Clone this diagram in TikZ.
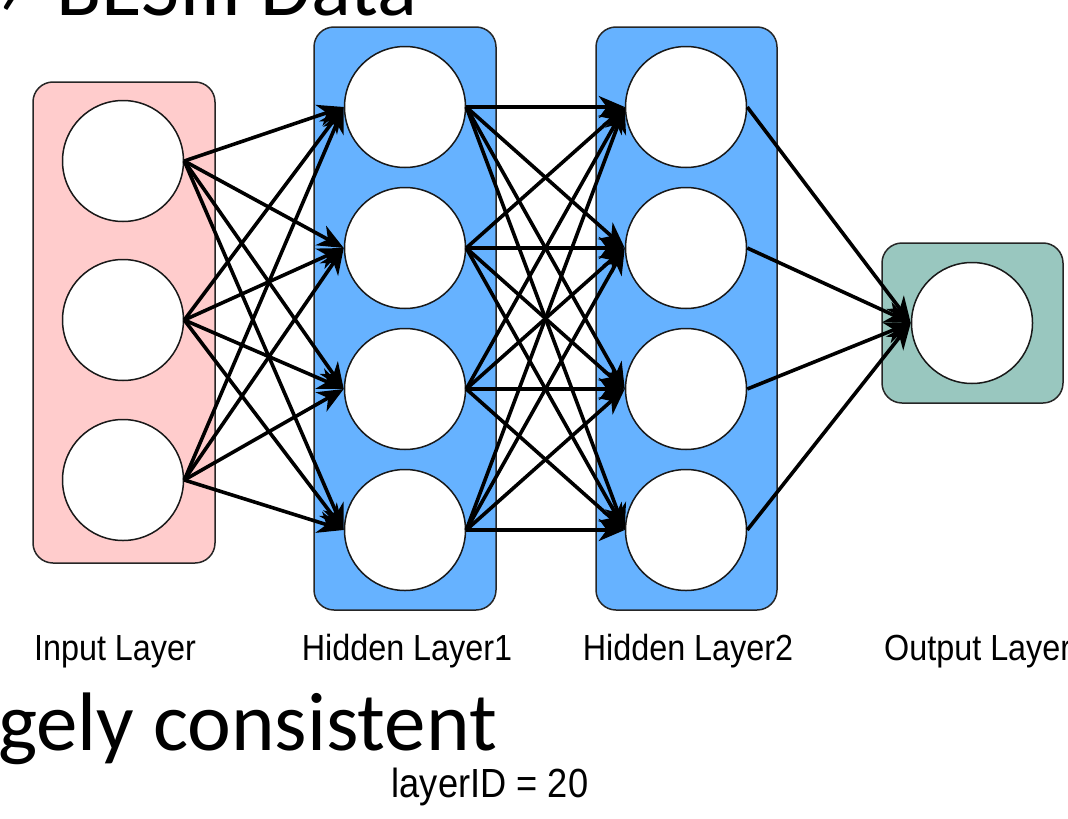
\documentclass[tikz,border=0pt]{standalone}
\usepackage{fontspec}
\setmainfont{Liberation Sans}
\newfontfamily\slidefont{Carlito}
\usetikzlibrary{arrows.meta}
\definecolor{inputpink}{RGB}{255,204,204}
\definecolor{hiddenblue}{RGB}{102,178,255}
\definecolor{outteal}{RGB}{153,199,191}
\newcommand{\tallsans}[1]{\scalebox{0.98}[1.1]{#1}}
\begin{document}
\begin{tikzpicture}[x=1pt,y=-1pt,
  neuron/.style={circle,draw=black!90,line width=1.5pt,fill=white,minimum size=121pt,inner sep=0pt},
  layerbox/.style={draw=black!85,line width=1.5pt,rounded corners=20pt,inner sep=0pt},
  link/.style={line width=3.6pt,-{Stealth[length=26pt,width=22pt,inset=8pt]}},
  layerlabel/.style={font=\fontsize{33}{33}\selectfont,inner sep=0pt,anchor=base},
  slidetext/.style={font=\slidefont\fontsize{83}{83}\selectfont,inner sep=0pt}]
\useasboundingbox (0,0) rectangle (1068,819);
\clip (0,0) rectangle (1068,819);

% slide text around the figure
\node[slidetext,anchor=base west] (bullet) at (-4,15) {›};
\node[slidetext,anchor=base west] (title) at (56,15) {BESIII Data};
\node[slidetext,anchor=base east] (remark) at (497,750) {gely consistent};
\node[font=\fontsize{37}{37}\selectfont,inner sep=0pt,anchor=base] (layerid) at (490,797) {\tallsans{layerID = 20}};

% layer boxes
\node[layerbox,fill=inputpink,minimum width=182pt,minimum height=481pt] (inbox) at (124,322.5) {};
\node[layerbox,fill=hiddenblue,minimum width=182pt,minimum height=583pt] (hoxa) at (405,318.5) {};
\node[layerbox,fill=hiddenblue,minimum width=181pt,minimum height=583pt] (hoxb) at (686.5,318.5) {};
\node[layerbox,fill=outteal,minimum width=181pt,minimum height=160pt] (outbox) at (972.5,323) {};

% neurons
\node[neuron] (i1) at (123,161) {};
\node[neuron] (i2) at (123,320) {};
\node[neuron] (i3) at (123,480) {};
\foreach \k/\y in {1/107,2/248,3/389,4/530} {
  \node[neuron] (a\k) at (405,\y) {};
  \node[neuron] (b\k) at (686,\y) {};
}
\node[neuron] (o1) at (972,323) {};

% connections
\foreach \s in {1,2,3}
  \foreach \t in {1,2,3,4}
    \draw[link] (i\s.east) -- (a\t.west);
\foreach \s in {1,2,3,4}
  \foreach \t in {1,2,3,4}
    \draw[link] (a\s.east) -- (b\t.west);
\foreach \s in {1,2,3,4}
  \draw[link] (b\s.east) -- (o1.west);

% layer captions
\node[layerlabel] (lin) at (115,660) {\tallsans{Input Layer}};
\node[layerlabel] (lha) at (407,660) {\tallsans{Hidden Layer1}};
\node[layerlabel] (lhb) at (688,660) {\tallsans{Hidden Layer2}};
\node[layerlabel,anchor=base west] (lout) at (884,660) {\tallsans{Output Layer}};
\end{tikzpicture}
\end{document}
